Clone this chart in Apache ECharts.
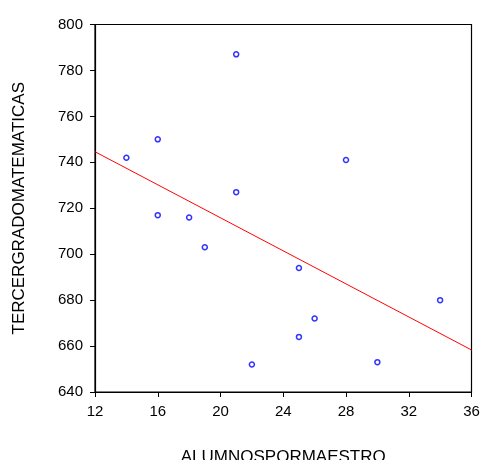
<!DOCTYPE html>
<html><head><meta charset="utf-8">
<script src="https://cdn.jsdelivr.net/npm/echarts@6/dist/echarts.min.js"></script>
<style>html,body{margin:0;padding:0;background:#fff}#c{width:480px;height:460px}</style>
</head><body><div id="c"></div>
<script>
const xLabel = "ALUMNOSPORMAESTRO";
const yLabel = "TERCERGRADOMATEMATICAS";
const alumnos = [14,16,16,18,19,21,21,22,25,25,26,28,30,34];
const matematicas = [742,750,717,716,703,787,727,652,694,664,672,741,653,680];
const fitX = [12,36];
const fitY = [744.6,658.3];

const pts = alumnos.map((x,i)=>[x, matematicas[i]]);
const fit = fitX.map((x,i)=>[x, fitY[i]]);
const font = 'Liberation Sans, Arial, sans-serif';
const chart = echarts.init(document.getElementById('c'), null, {renderer:'canvas'});
chart.setOption({
  animation:false,
  grid:{left:95,top:24.5,right:8.5,bottom:68,show:true,borderColor:'#000',borderWidth:1.2,backgroundColor:'transparent',
        containLabel:false,outerBoundsMode:'none'},
  xAxis:{type:'value',min:12,max:36,interval:4,
    name:xLabel,nameLocation:'middle',nameGap:57,
    nameTextStyle:{fontFamily:font,fontSize:17,color:'#000'},
    axisLine:{show:true,onZero:false,lineStyle:{color:'#000',width:1.2}},
    axisTick:{show:true,length:5,lineStyle:{color:'#000'}},
    axisLabel:{fontFamily:font,fontSize:15,color:'#000',margin:12},
    splitLine:{show:false}},
  yAxis:{type:'value',min:640,max:800,interval:20,
    name:yLabel,nameLocation:'middle',nameGap:67,
    nameTextStyle:{fontFamily:font,fontSize:17,color:'#000'},
    axisLine:{show:true,onZero:false,lineStyle:{color:'#000',width:1.2}},
    axisTick:{show:true,length:5,lineStyle:{color:'#000'}},
    axisLabel:{fontFamily:font,fontSize:15,color:'#000',margin:12},
    splitLine:{show:false}},
  series:[
    {type:'line',data:fit,symbol:'none',lineStyle:{color:'#ff0000',width:1},z:2},
    {type:'scatter',data:pts,symbol:'circle',symbolSize:5,
     itemStyle:{color:'#fff',borderColor:'#0000ff',borderWidth:1.5},z:3}
  ]
});
</script></body></html>
